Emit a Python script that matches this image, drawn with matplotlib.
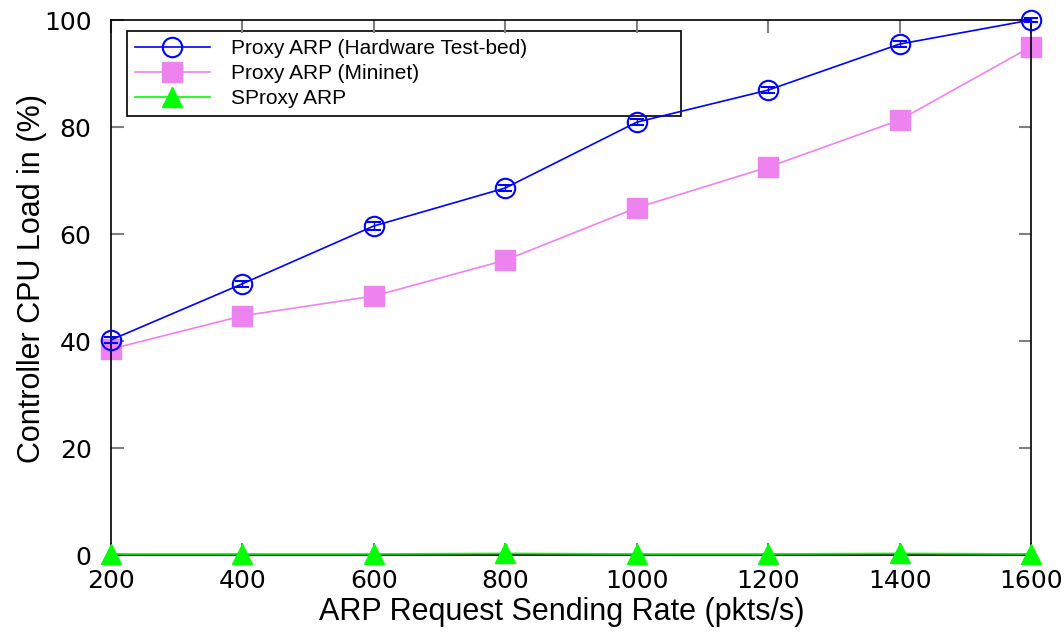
import numpy as np
import matplotlib.pyplot as plt

# Datos
rates = [200, 400, 600, 800, 1000, 1200, 1400, 1600]
hw_load = [40.2, 50.7, 61.5, 68.6, 80.9, 86.9, 95.5, 100.0]
hw_err = [0.6, 0.6, 0.7, 0.6, 0.6, 0.6, 0.6, 0.3]
mininet_load = [38.5, 44.7, 48.4, 55.1, 64.9, 72.5, 81.3, 95.0]
sproxy_load = [0.2, 0.2, 0.2, 0.3, 0.2, 0.2, 0.3, 0.2]

xticks = [200, 400, 600, 800, 1000, 1200, 1400, 1600]
yticks = [0, 20, 40, 60, 80, 100]

fig = plt.figure(figsize=(10.64, 6.33), dpi=100)
ax = fig.add_axes([0.1043, 0.1232, 0.8647, 0.8452])

h1 = ax.errorbar(rates, hw_load, yerr=hw_err, color='#0000ff', marker='o', ms=14,
                 mfc='none', mew=1.5, lw=1.2, capsize=5, elinewidth=1.0,
                 label='Proxy ARP (Hardware Test-bed)', clip_on=False, zorder=3)
h2, = ax.plot(rates, mininet_load, color='#ee82ee', marker='s', ms=14, lw=1.2,
              label='Proxy ARP (Mininet)', clip_on=False, zorder=2)
h3, = ax.plot(rates, sproxy_load, color='#00ff00', marker='^', ms=14, lw=1.2,
              label='SProxy ARP', clip_on=False, zorder=4)

ax.set_xlim(200, 1600)
ax.set_ylim(0, 100)
ax.set_xticks(xticks)
ax.set_yticks(yticks)
ax.tick_params(direction='in', length=9, width=1.5, color='gray',
               top=True, right=True, labelsize=18, labelcolor='black')
ax.tick_params(axis='x', pad=10)
ax.tick_params(axis='y', pad=14)
for s in ax.spines.values():
    s.set_linewidth(1.2)

ax.set_xlabel('ARP Request Sending Rate (pkts/s)', fontsize=22,
              family='Liberation Sans')
ax.set_ylabel('Controller CPU Load in (%)', fontsize=22,
              family='Liberation Sans')
ax.xaxis.set_label_coords(0.490, -0.078)
ax.yaxis.set_label_coords(-0.070, 0.516)

# leyenda con recuadro ancho, estilo gnuplot (transparente)
leg_line = plt.Line2D([], [], color='#0000ff', marker='o', ms=14, mfc='none',
                      mew=1.5, lw=1.2)
leg = ax.legend([leg_line, h2, h3],
                ['Proxy ARP (Hardware Test-bed)', 'Proxy ARP (Mininet)', 'SProxy ARP'],
                loc='upper left', bbox_to_anchor=(0.0174, 0.9794, 0.602, 0.0),
                mode='expand', prop={'family': 'Liberation Sans', 'size': 15},
                fancybox=False, edgecolor='black', facecolor='none', framealpha=1,
                handlelength=3.6, borderpad=0.38, labelspacing=0.3,
                borderaxespad=0, handletextpad=1.0)
leg.get_frame().set_linewidth(1.2)
leg.set_zorder(1)

fig.savefig('out.png', dpi=100)
